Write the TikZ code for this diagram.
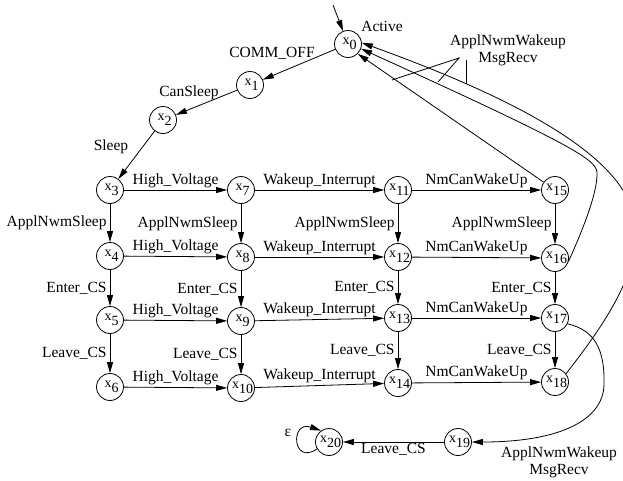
\documentclass[tikz,border=0pt]{standalone}
\usepackage{fontspec}
\setmainfont{Liberation Serif}
\usetikzlibrary{arrows.meta}
\begin{document}
\begin{tikzpicture}[x=1pt,y=-1pt,
  font=\fontsize{15.5}{17}\selectfont,
  state/.style={draw,circle,minimum size=27pt,inner sep=0pt,line width=0.8pt},
  tr/.style={draw,line width=0.8pt,-{Triangle[length=11pt,width=6pt]}},
  lbl/.style={inner sep=1pt},
  vlbl/.style={left,inner sep=1pt,xshift=-2pt},
  ptr/.style={draw,line width=0.8pt}]
\useasboundingbox (0,0) rectangle (623,480);

% state label: x with a lowered index
\newcommand\stlabel[1]{\makebox[0pt]{\hspace{3pt}\fontsize{14}{14}\selectfont x\raisebox{-5.5pt}{#1}}}

% states
\node[state] (x0)  at (348,44)  {\stlabel{0}};
\node[state] (x1)  at (250,85)  {\stlabel{1}};
\node[state] (x2)  at (163,120) {\stlabel{2}};
\node[state] (x3)  at (110,190) {\stlabel{3}};
\node[state] (x4)  at (110,256) {\stlabel{4}};
\node[state] (x5)  at (110,320) {\stlabel{5}};
\node[state] (x6)  at (110,387) {\stlabel{6}};
\node[state] (x7)  at (241,190) {\stlabel{7}};
\node[state] (x8)  at (241,257) {\stlabel{8}};
\node[state] (x9)  at (241,321) {\stlabel{9}};
\node[state] (x10) at (241,388) {\stlabel{10}};
\node[state] (x11) at (398,190) {\stlabel{11}};
\node[state] (x12) at (398,257) {\stlabel{12}};
\node[state] (x13) at (398,318) {\stlabel{13}};
\node[state] (x14) at (398,383) {\stlabel{14}};
\node[state] (x15) at (555,190) {\stlabel{15}};
\node[state] (x16) at (555,258) {\stlabel{16}};
\node[state] (x17) at (555,318) {\stlabel{17}};
\node[state] (x18) at (555,382) {\stlabel{18}};
\node[state] (x19) at (458,442) {\stlabel{19}};
\node[state] (x20) at (329,442) {\stlabel{20}};

% initial arrow and the name of the initial state
\coordinate (init) at (333,5);
\draw[tr] (init) -- (x0);
\node[lbl] (active) at (382,26) {Active};

% start-up chain
\draw[tr] (x0) -- (x1);
\node[lbl] (lcomm) at (272,53) {COMM\_OFF};
\draw[tr] (x1) -- (x2);
\node[lbl] (lcan) at (189,93) {CanSleep};
\draw[tr] (x2) -- (x3);
\node[lbl] (lsleep) at (111,147) {Sleep};

% horizontal transitions
\foreach \a/\b/\t in {x3/x7/High\_Voltage, x4/x8/High\_Voltage, x5/x9/High\_Voltage, x6/x10/High\_Voltage,
  x7/x11/Wakeup\_Interrupt, x8/x12/Wakeup\_Interrupt, x9/x13/Wakeup\_Interrupt, x10/x14/Wakeup\_Interrupt,
  x11/x15/NmCanWakeUp, x12/x16/NmCanWakeUp, x13/x17/NmCanWakeUp, x14/x18/NmCanWakeUp}
  \draw[tr] (\a) -- node[above,lbl,yshift=1pt] {\t} (\b);

% vertical transitions
\foreach \a/\b/\t in {x3/x4/ApplNwmSleep, x4/x5/Enter\_CS, x5/x6/Leave\_CS,
  x7/x8/ApplNwmSleep, x8/x9/Enter\_CS, x9/x10/Leave\_CS,
  x11/x12/ApplNwmSleep, x12/x13/Enter\_CS, x13/x14/Leave\_CS,
  x15/x16/ApplNwmSleep, x16/x17/Enter\_CS, x17/x18/Leave\_CS}
  \draw[tr] (\a) -- node[vlbl] {\t} (\b);

% wake-up transitions back to x0
\draw[tr] (x15) -- (x0.-45);
\draw[tr] (x16.-15) .. controls (585,225) and (598,190) .. (597,172)
  .. controls (595,160) and (580,148) .. (x0.-20);
\draw[tr] (x18.37) .. controls (600,330) and (636,280) .. (636,232)
  .. controls (636,185) and (590,125) .. (x0.5);

% shared label with its pointers
\node[lbl,align=center] (wk) at (508,50) {ApplNwmWakeup\\MsgRecv};
\coordinate (pj) at (459,58);
\coordinate (pa) at (392,80);
\coordinate (pb) at (438,82);
\coordinate (pc) at (466,60);
\coordinate (pd) at (466,84);
\draw[ptr] (pa) -- (pj) -- (pb);
\draw[ptr] (pc) -- (pd);

% wake-up in the critical section
\draw[tr] (x17.-25) .. controls (595,330) and (605,350) .. (604,385)
  .. controls (603,420) and (560,442) .. (x19.east);
\node[lbl,align=center] (wk2) at (559,462) {ApplNwmWakeup\\MsgRecv};

% final states
\draw[tr] (x19) -- node[below,lbl] {Leave\_CS} (x20);
\draw[tr] (x20.-150) .. controls (292,466) and (290,420) .. (x20.125);
\node[lbl] (eps) at (288,433) {ε};
\end{tikzpicture}
\end{document}
